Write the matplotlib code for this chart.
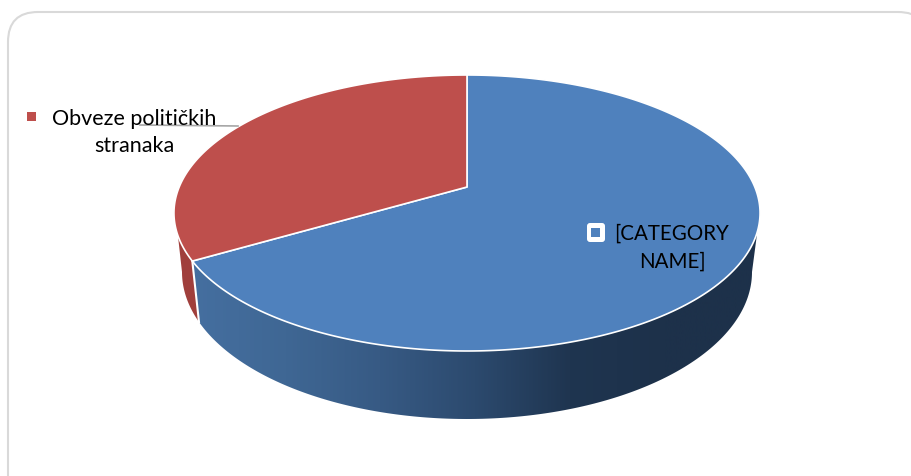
# -*- coding: utf-8 -*-
import numpy as np
import matplotlib.pyplot as plt
from matplotlib.colors import LinearSegmentedColormap
from matplotlib.patches import FancyBboxPatch, Polygon, Rectangle

# Udjeli (procjena s grafa), kazaljke od vrha
labels = ["[CATEGORY\nNAME]", "Obveze političkih\nstranaka"]
values = [66.6, 33.4]
colors = ["#4f81bd", "#be4f4c"]
side_blue = ["#456fa0", "#3f6794", "#375a84", "#2c4a6e", "#1f3550", "#1d314a", "#1d314a"]
side_red = "#a03f3c"

# Geometrija pite u pikselima (projekcija kruga na elipsu)
CX, AY = 467.0, 187.0   # centar kruga na slici
K, C, A = 287.8, 0.1884, -97.87
BOT_X, BOT_Y, BOT_A, BOT_B = 467.0, 272.0, 285.0, 147.0


def proj(ang):
    # ang u stupnjevima, 0 = vrh, raste u smjeru kazaljke
    t = np.radians(ang)
    u, v = np.sin(t), np.cos(t)
    w = C * v + 1
    return CX + K * u / w, (A * v + AY) / w


def top_arc(a0, a1, n=200):
    x, y = proj(np.linspace(a0, a1, n))
    return np.column_stack([x, y])


def bottom_arc(x0, x1, n=200):
    # donji rub, samo prednja polovica
    t = np.linspace(np.arccos((x0 - BOT_X) / BOT_A), np.arccos((x1 - BOT_X) / BOT_A), n)
    return np.column_stack([BOT_X + BOT_A * np.cos(t), BOT_Y + BOT_B * np.sin(t)])


fig = plt.figure(figsize=(9.12, 4.76), dpi=100)
ax = fig.add_axes([0, 0, 1, 1])
ax.set_xlim(0, 912)
ax.set_ylim(476, 0)
ax.axis("off")

# okvir
ax.add_patch(FancyBboxPatch((8, 12), 920, 500, boxstyle="round,pad=0,rounding_size=30",
                            fc="none", ec="#d9d9d9", lw=1.5))

split = values[0] / sum(values) * 360

# bocne stijenke
SIL_R, SIL_L = 108.5, 250.0   # gdje vidljiva stijenka pocinje na gornjoj elipsi
split_top = proj(split)
split_bot_x = BOT_X + BOT_A * -np.sqrt(1 - (50.0 / BOT_B) ** 2)
blue_pts = np.vstack([top_arc(SIL_R, split), bottom_arc(split_bot_x, BOT_X + BOT_A)])
blue_poly = Polygon(blue_pts, closed=True, fc="none", ec="none")
ax.add_patch(blue_poly)
cmap = LinearSegmentedColormap.from_list("side", side_blue)
grad = np.linspace(0, 1, 256).reshape(1, -1)
im = ax.imshow(grad, cmap=cmap, extent=[190, 760, 476, 0], aspect="auto", zorder=1)
im.set_clip_path(blue_poly)
ax.set_xlim(0, 912)
ax.set_ylim(476, 0)

red_pts = np.vstack([top_arc(split, SIL_L), bottom_arc(BOT_X - BOT_A, split_bot_x)])
ax.add_patch(Polygon(red_pts, closed=True, fc=side_red, ec="none", zorder=1))
ax.plot([split_top[0], split_bot_x], [split_top[1], BOT_Y + 50.0], color="white", lw=1.5, zorder=2)

# gornja ploha, iz vrijednosti
start = 0.0
for val, col in zip(values, colors):
    end = start + val / sum(values) * 360
    pts = np.vstack([[CX, AY], top_arc(start, end, 300)])
    ax.add_patch(Polygon(pts, closed=True, fc=col, ec="white", lw=1.2, joinstyle="round", zorder=3))
    start = end

# oznake
font = ["Lato", "DejaVu Sans"]
ax.plot([140, 238], [125, 126], color="#a6a6a6", lw=1.2, zorder=4)
ax.add_patch(Rectangle((27, 112), 9, 9, fc=colors[1], ec="none", zorder=5))
ax.text(134, 132.5, labels[1], ha="center", va="center", fontsize=15.5, family=font,
        color="black", linespacing=1.42, zorder=6)

ax.add_patch(FancyBboxPatch((590, 226), 12, 13, boxstyle="round,pad=3,rounding_size=3",
                            fc="white", ec="none", zorder=5))
ax.add_patch(Rectangle((591, 228), 9, 9, fc=colors[0], ec="none", zorder=6))
ax.text(672, 248, labels[0], ha="center", va="center", fontsize=14.8, family=font,
        color="black", linespacing=1.48, zorder=6)

fig.savefig("out.png", dpi=100)
